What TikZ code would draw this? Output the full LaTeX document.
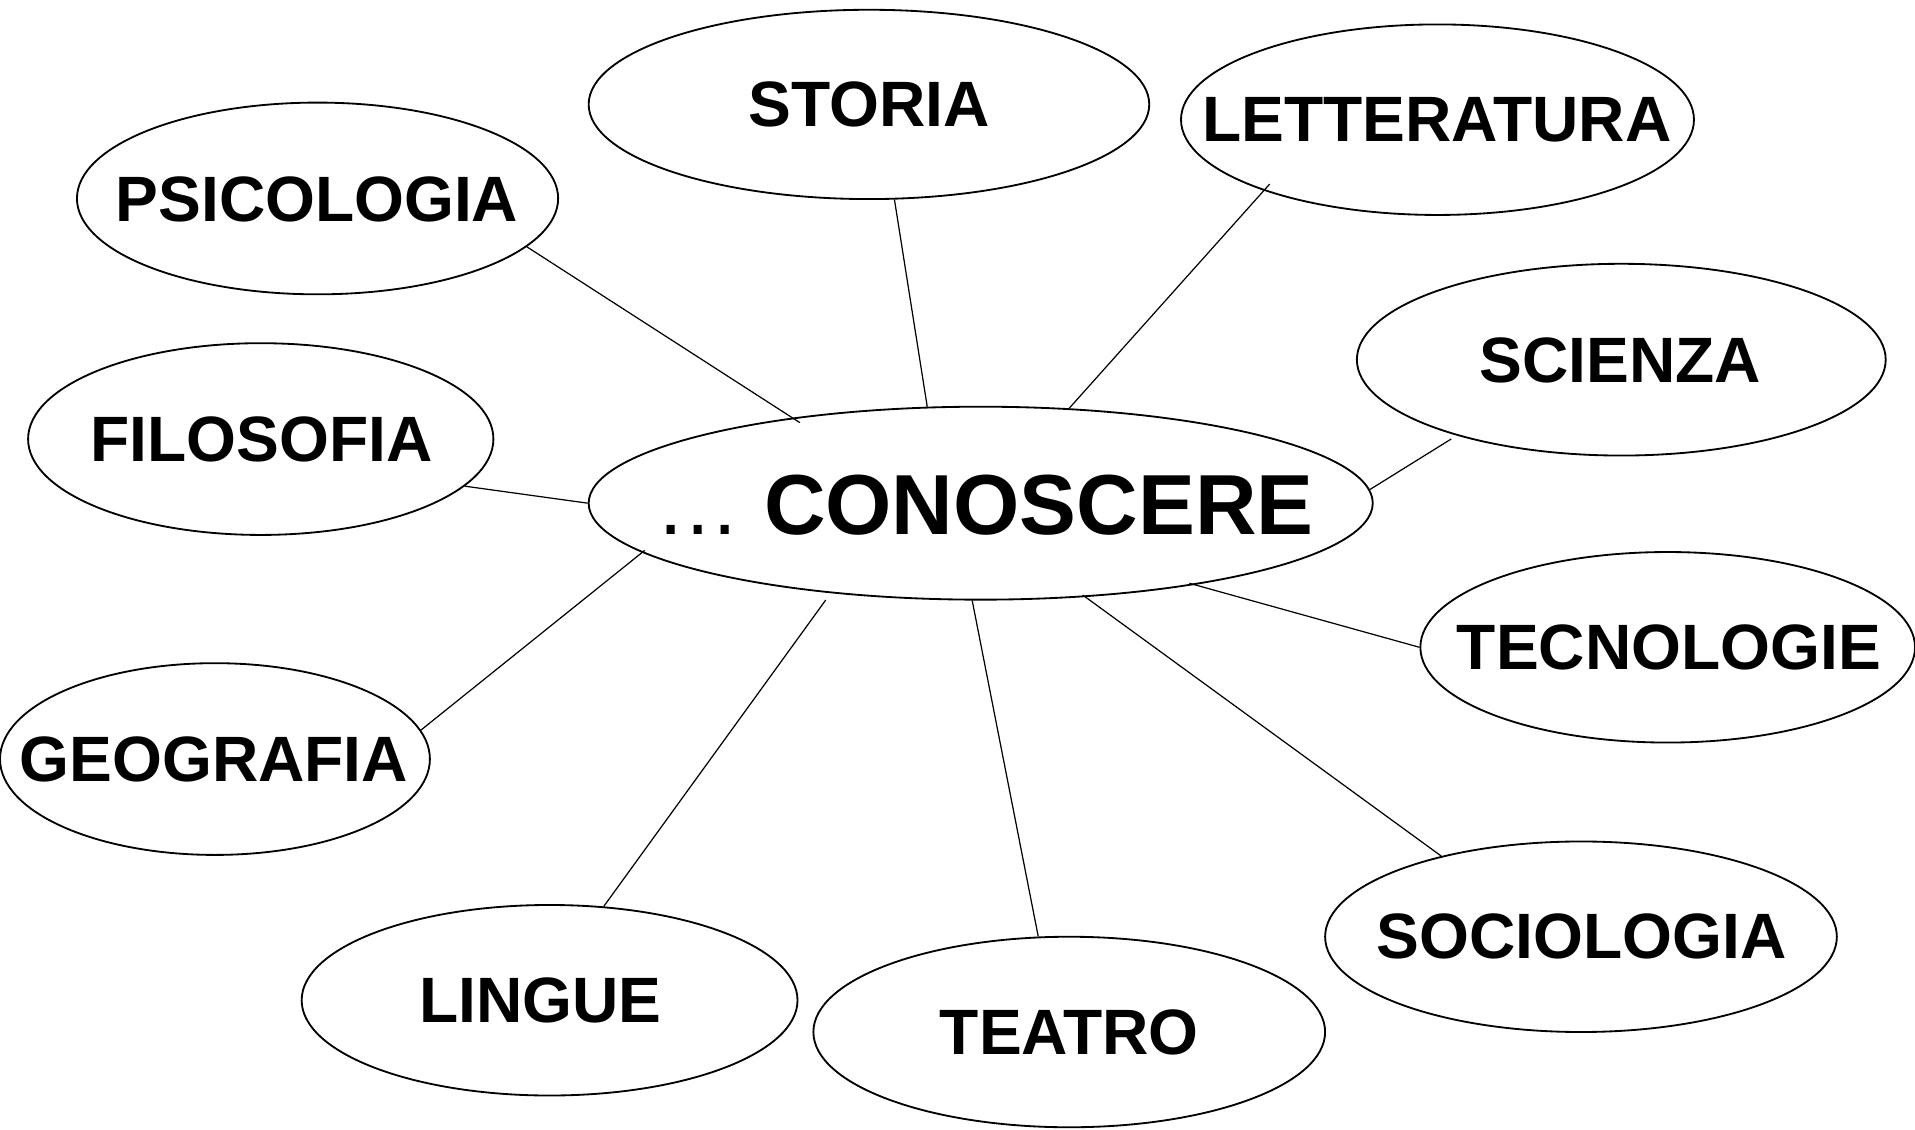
\documentclass[tikz,border=0pt]{standalone}
\usepackage{fontspec}
\setmainfont{Liberation Sans}
\usetikzlibrary{shapes.geometric,calc}
\begin{document}
\begin{tikzpicture}[x=1pt,y=-1pt,
  bubble/.style={ellipse,draw,line width=1.5pt,inner sep=0pt},
  lbl/.style={font=\fontsize{52.5}{60}\selectfont\bfseries,inner sep=0pt},
  biglbl/.style={font=\fontsize{69.8}{80}\selectfont\bfseries,inner sep=0pt},
  link/.style={line width=1pt}]
\useasboundingbox (0,0) rectangle (1568,925.2);
% ellipses
\node[bubble,minimum width=459,minimum height=155] (sto) at (711.5,85.5) {};
\node[bubble,minimum width=420,minimum height=156] (let) at (1177,98) {};
\node[bubble,minimum width=394,minimum height=157] (psi) at (260,162.5) {};
\node[bubble,minimum width=433,minimum height=157] (sci) at (1327.5,294.5) {};
\node[bubble,minimum width=381,minimum height=157] (fil) at (213.5,359.5) {};
\node[bubble,minimum width=642,minimum height=158] (con) at (803,412) {};
\node[bubble,minimum width=405,minimum height=156] (tec) at (1365.5,530) {};
\node[bubble,minimum width=352,minimum height=157] (geo) at (176,621.5) {};
\node[bubble,minimum width=419,minimum height=156] (soc) at (1294.5,767) {};
\node[bubble,minimum width=406,minimum height=156] (lin) at (450,819) {};
\node[bubble,minimum width=419,minimum height=156] (tea) at (875.5,845) {};
% labels
\node[lbl] (sto-t) at (711.5,85.5) {STORIA};
\node[lbl] (let-t) at (1176.5,98) {LETTERATURA};
\node[lbl] (psi-t) at (259.5,163) {PSICOLOGIA};
\node[lbl] (sci-t) at (1326.5,295) {SCIENZA};
\node[lbl] (fil-t) at (214,360) {FILOSOFIA};
\node[biglbl] (con-t) at (806,413.5) {{\mdseries …} CONOSCERE};
\node[lbl] (tec-t) at (1366.5,530) {TECNOLOGIE};
\node[lbl] (geo-t) at (175,621.5) {GEOGRAFIA};
\node[lbl] (soc-t) at (1295,767) {SOCIOLOGIA};
\node[lbl] (lin-t) at (442.5,819) {LINGUE};
\node[lbl] (tea-t) at (875.5,845) {TEATRO};
% connectors
\draw[link] (psi.-13.4) -- ($(con)!0.946!(con.156.6)$);
\draw[link] (sto.-75.9) -- (con.119.7);
\draw[link] ($(let)!0.935!(let.201.4)$) -- (con.47.3);
\draw[link] ($(sci)!1.04!(sci.205.5)$) -- (con.2.3);
\draw[link] (fil.-13.8) -- (con.180);
\draw[link] (geo.8.9) -- ($(con)!0.983!(con.188.7)$);
\draw[link] (lin.60) -- ($(con)!1.07!(con.212.5)$);
\draw[link] (tea.108.8) -- (con.265.7);
\draw[link] (soc.150.7) -- ($(con)!0.978!(con.-42.5)$);
\draw[link] (tec.180) -- ($(con)!0.979!(con.-21.9)$);
\end{tikzpicture}
\end{document}
